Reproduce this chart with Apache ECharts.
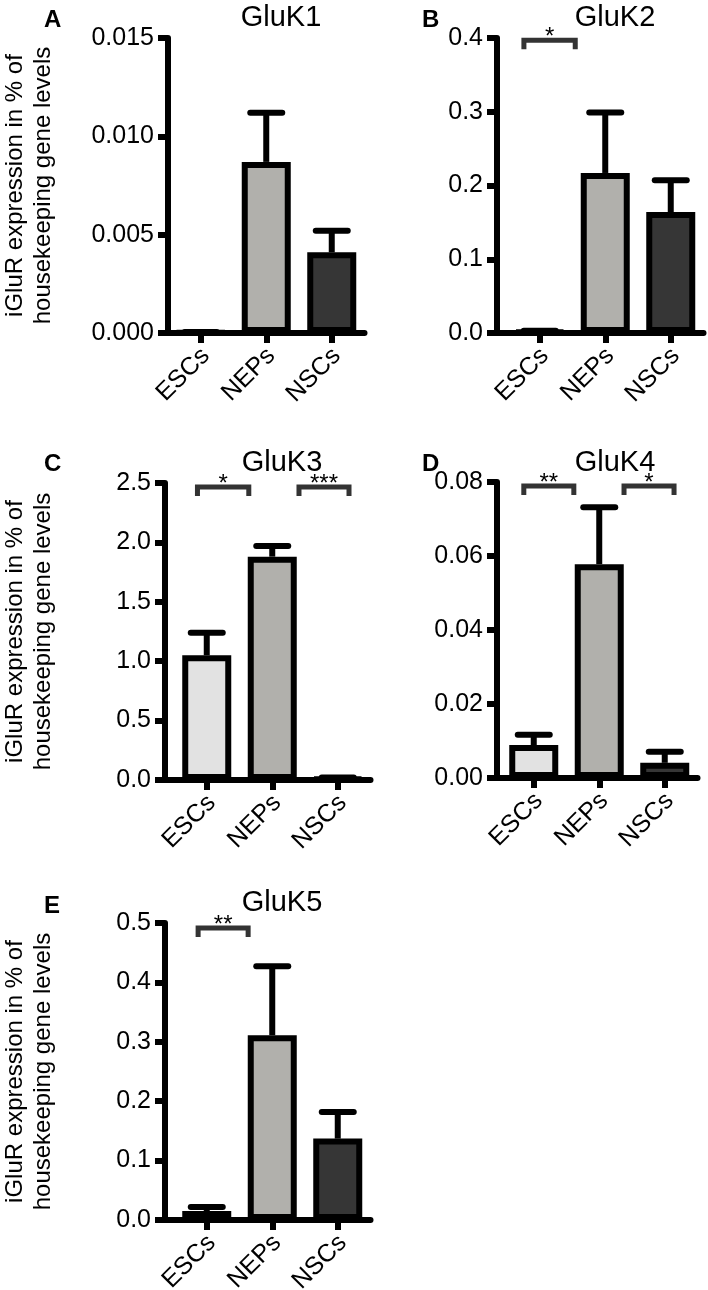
<!DOCTYPE html>
<html><head><meta charset="utf-8">
<script src="https://cdn.jsdelivr.net/npm/echarts@6/dist/echarts.min.js"></script>
<style>html,body{margin:0;padding:0;background:#fff}#c{width:708px;height:1290px}</style>
</head><body><div id="c"></div>
<script>
// ---------- data ----------
const categories = ['ESCs', 'NEPs', 'NSCs'];
const panelTitles = ['GluK1', 'GluK2', 'GluK3', 'GluK4', 'GluK5'];
const panelLetters = ['A', 'B', 'C', 'D', 'E'];
const barColors = ['#e2e2e2', '#b1b0ac', '#363636'];

const meansK1 = [0.00003, 0.0087, 0.0041];
const errTopK1 = [0.00005, 0.0112, 0.0052];
const meansK2 = [0.002, 0.217, 0.164];
const errTopK2 = [0.003, 0.299, 0.207];
const meansK3 = [1.05, 1.88, 0.012];
const errTopK3 = [1.24, 1.97, 0.02];
const meansK4 = [0.0089, 0.0578, 0.0041];
const errTopK4 = [0.0117, 0.0732, 0.0071];
const meansK5 = [0.015, 0.311, 0.137];
const errTopK5 = [0.022, 0.427, 0.182];

const yMax = [0.015, 0.4, 2.5, 0.08, 0.5];
const yStep = [0.005, 0.1, 0.5, 0.02, 0.1];
const yDecimals = [3, 1, 1, 2, 1];

// significance brackets: [from, to] in category units relative to ESCs, y value, label
const bracketsK1 = [];
const bracketsK2 = [[-0.28, 0.58, 0.397, '*']];
const bracketsK3 = [[-0.18, 0.68, 2.466, '*'], [1.37, 2.21, 2.466, '***']];
const bracketsK4 = [[-0.19, 0.65, 0.0789, '**'], [1.34, 2.18, 0.0789, '*']];
const bracketsK5 = [[-0.17, 0.67, 0.4916, '**']];

const yName = 'iGluR expression in % of\nhousekeeping gene levels';

// ---------- layout ----------
const FONT = "'Liberation Sans', Arial, Helvetica, sans-serif";
const BAND = 65.5;
const LW = 6;
const layouts = [
  { left: 168, top: 38, height: 295, offset: 0, nameGap: 111, titleX: 276, titleY: -2, letterX: 39, letterY: 3 },
  { left: 507, top: 38, height: 295, offset: 10, nameGap: null, titleX: 610, titleY: -2, letterX: 417, letterY: 3 },
  { left: 174, top: 483, height: 297, offset: 9, nameGap: 108, titleX: 277, titleY: 443, letterX: 39, letterY: 447 },
  { left: 501, top: 482, height: 296, offset: 4, nameGap: null, titleX: 610, titleY: 443, letterX: 417, letterY: 447 },
  { left: 174, top: 923, height: 297, offset: 9, nameGap: 108, titleX: 277, titleY: 883, letterX: 39, letterY: 889 }
];

const means = [meansK1, meansK2, meansK3, meansK4, meansK5];
const errTops = [errTopK1, errTopK2, errTopK3, errTopK4, errTopK5];
const brackets = [bracketsK1, bracketsK2, bracketsK3, bracketsK4, bracketsK5];

const grid = [], xAxis = [], yAxis = [], series = [], title = [], graphic = [];

layouts.forEach((L, i) => {
  grid.push({ left: L.left, top: L.top, width: BAND * 3, height: L.height,
    containLabel: false, outerBoundsMode: 'none' });
  xAxis.push({
    type: 'category', gridIndex: i, data: categories,
    axisLine: { show: true, lineStyle: { color: '#000', width: LW } },
    axisTick: { show: true, alignWithLabel: true, length: 10, lineStyle: { color: '#000', width: LW } },
    axisLabel: { rotate: 45, margin: 24, fontSize: 25, color: '#000', fontFamily: FONT, interval: 0,
      padding: [0, -7, 0, 0] }
  });
  const ya = {
    type: 'value', gridIndex: i, min: 0, max: yMax[i], interval: yStep[i], offset: L.offset,
    axisLine: { show: true, lineStyle: { color: '#000', width: LW } },
    axisTick: { show: true, length: 10, lineStyle: { color: '#000', width: LW } },
    splitLine: { show: false },
    axisLabel: { margin: 14, fontSize: 25, color: '#000', fontFamily: FONT,
      formatter: (v => v.toFixed(yDecimals[i])) }
  };
  if (L.nameGap) {
    Object.assign(ya, {
      name: yName, nameLocation: 'middle', nameRotate: 90, nameGap: L.nameGap,
      nameTextStyle: { fontSize: 24, lineHeight: 28, color: '#000', fontFamily: FONT }
    });
  }
  yAxis.push(ya);

  series.push({
    type: 'bar', xAxisIndex: i, yAxisIndex: i, barWidth: 49, z: 2,
    data: means[i].map((v, k) => ({ value: v, itemStyle: { color: barColors[k] } })),
    itemStyle: { borderColor: '#000', borderWidth: LW }
  });
  series.push({
    type: 'custom', xAxisIndex: i, yAxisIndex: i, z: 3,
    data: categories.map((c, k) => [k, means[i][k], errTops[i][k]]),
    renderItem: (params, api) => {
      const b = api.coord([api.value(0), api.value(1)]);
      const t = api.coord([api.value(0), api.value(2)]);
      const cap = 16;
      return { type: 'group', children: [
        { type: 'line', shape: { x1: b[0], y1: b[1], x2: b[0], y2: t[1] }, style: { stroke: '#000', lineWidth: LW } },
        { type: 'line', shape: { x1: b[0] - cap, y1: t[1], x2: b[0] + cap, y2: t[1] }, style: { stroke: '#000', lineWidth: LW, lineCap: 'round' } }
      ] };
    }
  });
  if (brackets[i].length) {
    series.push({
      type: 'custom', xAxisIndex: i, yAxisIndex: i, z: 4, clip: false,
      data: brackets[i].map(b => [0, b[2], b[0], b[1]]),
      encode: { x: 0, y: 1 },
      renderItem: (params, api) => {
        const base = api.coord([0, api.value(1)]);
        const bw = api.size([1, 0])[0];
        const x1 = base[0] + api.value(2) * bw + 2.5;
        const x2 = base[0] + api.value(3) * bw - 2.5;
        const y = base[1];
        const label = brackets[i][params.dataIndex][3];
        return { type: 'group', children: [
          { type: 'polyline', shape: { points: [[x1, y + 9], [x1, y], [x2, y], [x2, y + 9]] },
            style: { stroke: '#333', lineWidth: 5, fill: null, lineJoin: 'miter' } },
          { type: 'text', style: { text: label, x: (x1 + x2) / 2, y: y - 3, align: 'center', verticalAlign: 'middle',
            font: '24px ' + FONT, fill: '#000' } }
        ] };
      }
    });
  }
  title.push({ text: panelTitles[i], left: L.titleX, top: L.titleY, textAlign: 'center',
    textStyle: { fontSize: 29, fontWeight: 'normal', color: '#000', fontFamily: FONT } });
  title.push({ text: panelLetters[i], left: L.letterX, top: L.letterY,
    textStyle: { fontSize: 24, fontWeight: 'bold', color: '#000', fontFamily: FONT } });
  if (L.offset > 0) {
    const yb = L.top + L.height;
    graphic.push({ type: 'line', shape: { x1: L.left - L.offset - 10, y1: yb, x2: L.left, y2: yb },
      style: { stroke: '#000', lineWidth: LW }, z: 5 });
  }
});

const chart = echarts.init(document.getElementById('c'), null, { renderer: 'canvas' });
chart.setOption({
  animation: false,
  backgroundColor: '#fff',
  textStyle: { fontFamily: FONT },
  title, grid, xAxis, yAxis, series, graphic
});
</script>
</body></html>
